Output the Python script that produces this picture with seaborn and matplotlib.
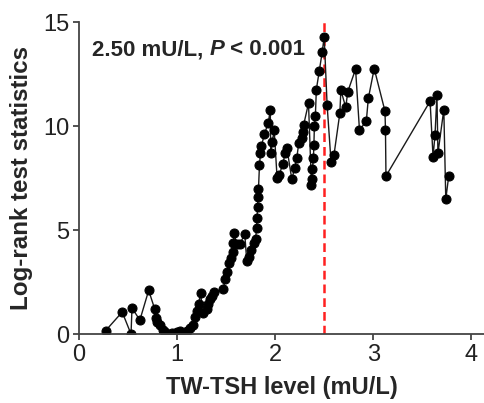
import numpy as np
import pandas as pd
import matplotlib
matplotlib.use("Agg")
import matplotlib.pyplot as plt
import seaborn as sns

sns.set_style("ticks")
plt.rcParams['font.family'] = ['Liberation Sans', 'DejaVu Sans']

# TW-TSH cut-off values and log-rank statistics
tsh_cutoff = [0.27, 0.44, 0.53, 0.54, 0.62, 0.71, 0.77, 0.78, 0.80, 0.83,
              0.86, 0.88, 0.95, 1.00, 1.03, 1.10, 1.13, 1.16, 1.18, 1.20,
              1.22, 1.24, 1.26, 1.30, 1.32, 1.34, 1.36, 1.38, 1.47, 1.49,
              1.51, 1.53, 1.55, 1.57, 1.575, 1.58, 1.61, 1.64, 1.69, 1.71,
              1.73, 1.75, 1.78, 1.80, 1.81, 1.815, 1.82, 1.825, 1.83, 1.84,
              1.85, 1.86, 1.89, 1.93, 1.95, 1.955, 1.97, 1.99, 2.02, 2.04,
              2.08, 2.10, 2.12, 2.17, 2.20, 2.22, 2.24, 2.27, 2.28, 2.29,
              2.34, 2.37, 2.375, 2.38, 2.39, 2.395, 2.40, 2.41, 2.42, 2.45,
              2.48, 2.50, 2.53, 2.57, 2.60, 2.66, 2.67, 2.72, 2.74, 2.82,
              2.86, 2.93, 2.95, 3.01, 3.12, 3.125, 3.13, 3.58, 3.61, 3.63,
              3.65, 3.66, 3.72, 3.74, 3.77]
logrank_stat = [0.16, 1.06, 0.00, 1.26, 0.67, 2.10, 1.23, 0.75, 0.59, 0.43,
                0.22, 0.11, 0.03, 0.10, 0.14, 0.14, 0.27, 0.45, 0.80, 1.10,
                1.47, 1.99, 1.00, 1.20, 1.47, 1.71, 1.85, 2.00, 2.15, 2.63,
                3.00, 3.40, 3.64, 3.93, 4.36, 4.84, 4.33, 4.33, 4.81, 3.52,
                3.72, 4.04, 4.36, 4.55, 5.08, 5.56, 6.12, 6.60, 7.00, 8.12,
                8.69, 9.04, 9.62, 10.15, 10.80, 8.69, 9.25, 9.80, 7.49, 7.64,
                8.20, 8.69, 8.93, 7.44, 8.01, 8.45, 9.17, 9.45, 9.70, 10.05,
                11.10, 7.16, 7.45, 7.95, 8.45, 9.09, 10.00, 10.48, 11.76, 12.66,
                13.57, 14.30, 11.00, 8.28, 8.62, 10.64, 11.73, 10.90, 11.65, 12.74,
                9.80, 10.26, 11.33, 12.77, 10.72, 9.80, 7.60, 11.20, 8.53, 9.57,
                11.49, 8.69, 10.80, 6.49, 7.60]
best_cutoff = 2.50

df = pd.DataFrame({'tsh': tsh_cutoff, 'stat': logrank_stat})

fig = plt.figure(figsize=(4.85, 4.03), dpi=100)
ax = fig.add_axes([0.163, 0.171, 0.837, 0.774])

sns.lineplot(data=df, x='tsh', y='stat', estimator=None, sort=False,
             color='#1a1a1a', linewidth=1.0, marker='o', markersize=6.5,
             markerfacecolor='black', markeredgecolor='black', ax=ax)

ax.axvline(best_cutoff, color='#ff2020', linestyle=(0, (3.5, 2)), linewidth=1.8, zorder=0)

ax.set_xlim(0, 4.14)
ax.set_ylim(0, 15)
ax.set_xticks([0, 1, 2, 3, 4])
ax.set_yticks([0, 5, 10, 15])
ax.tick_params(labelsize=17, width=1.3, length=4.5, pad=2.5,
               color='#444444', labelcolor='#222222')
for s in ['left', 'bottom']:
    ax.spines[s].set_linewidth(1.3)
    ax.spines[s].set_color('#444444')
sns.despine(ax=ax)

ax.set_xlabel('TW-TSH level (mU/L)', fontsize=17, fontweight='bold', labelpad=7)
ax.set_ylabel('Log-rank test statistics', fontsize=17.4, fontweight='bold', labelpad=7)

# annotation with italic P
fs = 16
t1 = ax.text(0.032, 0.894, '2.50 mU/L, ', transform=ax.transAxes, fontsize=fs,
             fontweight='bold', va='baseline')
t2 = ax.annotate('P', xy=(1, 0), xycoords=t1, va='bottom', fontsize=fs,
                 fontweight='bold', fontstyle='italic')
t3 = ax.annotate(' < 0.001', xy=(1, 0), xycoords=t2, va='bottom', fontsize=fs,
                 fontweight='bold')

plt.savefig('out.png', dpi=100)
